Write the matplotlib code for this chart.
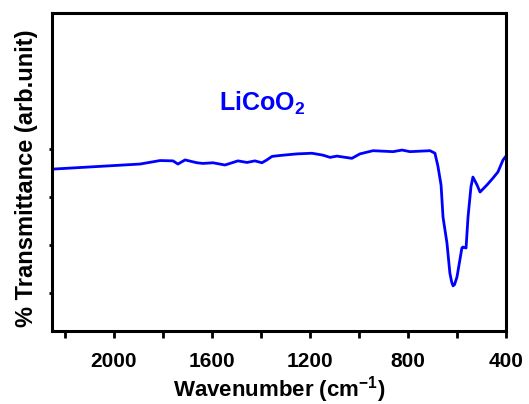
import matplotlib
matplotlib.use("Agg")
import matplotlib.pyplot as plt
from matplotlib.ticker import FixedLocator

plt.rcParams['font.family'] = ['Liberation Sans', 'DejaVu Sans']
plt.rcParams['font.weight'] = 'bold'
plt.rcParams['mathtext.fontset'] = 'custom'
plt.rcParams['mathtext.rm'] = 'Liberation Sans:bold'
plt.rcParams['mathtext.bf'] = 'Liberation Sans:bold'
plt.rcParams['mathtext.it'] = 'Liberation Sans:bold'

# Spectrum (wavenumber in cm^-1, transmittance in arbitrary units)
wavenumber = [2253, 1894, 1812, 1759, 1739, 1710, 1661, 1637, 1596, 1547, 1494, 1457,
              1425, 1396, 1376, 1355, 1322, 1253, 1192, 1147, 1118, 1090, 1029, 996,
              943, 861, 824, 792, 710, 690, 678, 665, 657, 641, 629, 622, 616, 610, 600,
              580, 576, 563, 555, 543, 535, 518, 506, 478, 453, 433, 412, 400]
transmittance = [50.9, 52.5, 53.6, 53.5, 52.5, 53.8, 52.9, 52.7, 52.9, 52.2, 53.5, 53.0,
                 53.5, 52.9, 53.8, 54.9, 55.2, 55.7, 55.9, 55.3, 54.6, 55.0, 54.3, 55.7,
                 56.7, 56.4, 56.9, 56.4, 56.7, 55.9, 51.9, 45.9, 35.8, 27.7, 18.2, 15.5, 14.2, 14.6, 17.0,
                 26.1, 26.4, 26.1, 35.8, 45.3, 48.4, 45.9, 43.7, 45.9, 48.1, 50.0, 53.8, 55.0]

x_major = [2000, 1600, 1200, 800, 400]
x_minor = [2200, 1800, 1400, 1000, 600]
y_ticks = [11.9, 27.0, 42.1, 57.2]

fig = plt.figure(figsize=(5.29, 4.04), dpi=100)
ax = fig.add_axes([0.0983, 0.1807, 0.9565 - 0.0983, 0.9678 - 0.1807])

ax.plot(wavenumber, transmittance, color='#0000ff', lw=2.0, solid_joinstyle='round')

ax.set_xlim(2253, 400)
ax.set_ylim(0, 100)

ax.xaxis.set_major_locator(FixedLocator(x_major))
ax.xaxis.set_minor_locator(FixedLocator(x_minor))
ax.yaxis.set_major_locator(FixedLocator(y_ticks))
ax.set_yticklabels([])

for s in ax.spines.values():
    s.set_linewidth(2.2)

ax.tick_params(axis='x', which='both', direction='out', length=5, width=2,
               labelsize=15, pad=10)
ax.tick_params(axis='y', which='major', direction='out', length=2, width=2)
for lab in ax.get_xticklabels():
    lab.set_fontweight('bold')

ax.set_xlabel(r'Wavenumber (cm$^{\mathbf{-1}}$)', fontsize=16, fontweight='bold', labelpad=2)
ax.set_ylabel('% Transmittance (arb.unit)', fontsize=17, fontweight='bold')
ax.yaxis.set_label_coords(-0.03, 0.48)

ax.text(1571, 69.2, r'LiCoO$_\mathbf{2}$', color='#0000ff', fontsize=18, fontweight='bold',
        ha='left', va='baseline')

fig.savefig('out.png', dpi=100)
